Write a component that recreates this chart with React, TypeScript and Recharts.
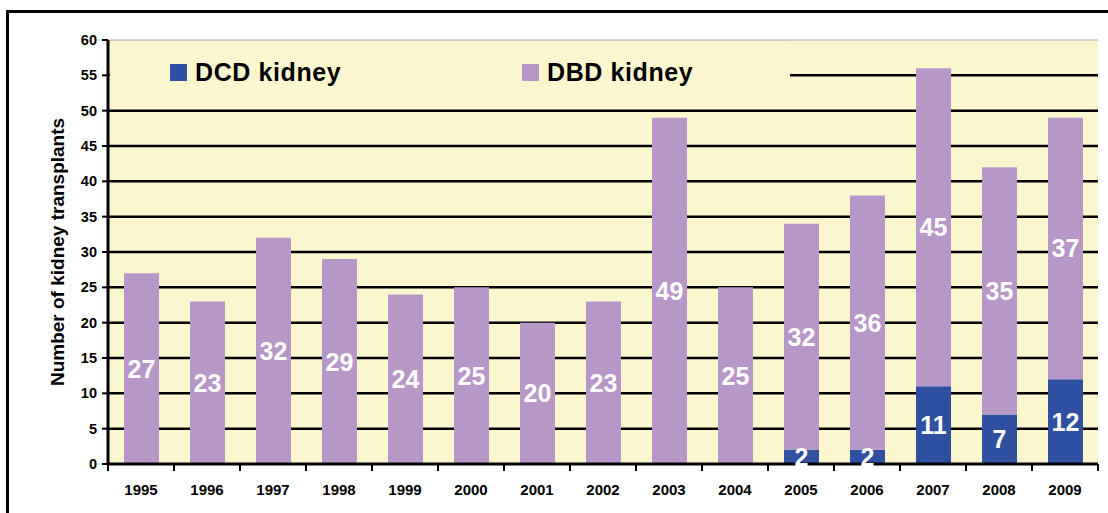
import { BarChart, Bar, XAxis, YAxis, CartesianGrid, LabelList, ReferenceLine } from "recharts";

const years = ["1995", "1996", "1997", "1998", "1999", "2000", "2001", "2002", "2003", "2004", "2005", "2006", "2007", "2008", "2009"];
const dcdKidney = [0, 0, 0, 0, 0, 0, 0, 0, 0, 0, 2, 2, 11, 7, 12];
const dbdKidney = [27, 23, 32, 29, 24, 25, 20, 23, 49, 25, 32, 36, 45, 35, 37];
const yTicks = [0, 5, 10, 15, 20, 25, 30, 35, 40, 45, 50, 55, 60];
const gridValues = [5, 10, 15, 20, 25, 30, 35, 40, 45, 50, 55];
const Y_MAX = 60;

const CREAM = "#faf7cf";
const PURPLE = "#b797c7";
const BLUE = "#2f4fa1";
const FONT = "'Liberation Sans', Arial, sans-serif";

const data = years.map((year, i) => ({ year, dcd: dcdKidney[i], dbd: dbdKidney[i] }));

// grid only at 5..55; top edge gets a thin grey line instead
function gridLines({ yAxis, offset }: any) {
  if (yAxis && typeof yAxis.scale === "function") return gridValues.map((v) => yAxis.scale(v));
  return gridValues.map((v) => offset.top + offset.height * (1 - v / Y_MAX));
}

function BarValue(props: any) {
  const { x, y, width, height, value } = props;
  if (!value) return null;
  return (
    <text
      x={x + width / 2}
      y={y + height / 2}
      textAnchor="middle"
      dominantBaseline="central"
      fill="#fff"
      fontFamily={FONT}
      fontWeight="bold"
      fontSize={25}
    >
      {value}
    </text>
  );
}

function YearTick(props: any) {
  const { x, y, payload, index } = props;
  const half = 33;
  return (
    <g>
      <line x1={x - half} x2={x - half} y1={y - 8} y2={y - 1} stroke="#000" strokeWidth={2} />
      {index === years.length - 1 && (
        <line x1={x + half} x2={x + half} y1={y - 8} y2={y - 1} stroke="#000" strokeWidth={2} />
      )}
      <text
        x={x}
        y={y + 17}
        textAnchor="middle"
        dominantBaseline="central"
        fontFamily={FONT}
        fontWeight="bold"
        fontSize={15}
        fill="#000"
      >
        {payload.value}
      </text>
    </g>
  );
}

function AxisTitle(props: any) {
  const { viewBox } = props;
  const cx = viewBox.x + 9;
  const cy = viewBox.y + viewBox.height / 2;
  return (
    <text
      x={cx}
      y={cy}
      transform={`rotate(-90, ${cx}, ${cy})`}
      textAnchor="middle"
      dominantBaseline="central"
      fontFamily={FONT}
      fontWeight="bold"
      fontSize={19}
      fill="#000"
    >
      Number of kidney transplants
    </text>
  );
}

function LegendBox() {
  const item = (color: string, label: string, left: number) => (
    <div style={{ position: "absolute", left, top: 16, display: "flex", alignItems: "center" }}>
      <div style={{ width: 17, height: 17, background: color, marginRight: 8 }} />
      <span
        style={{
          fontFamily: FONT,
          fontWeight: "bold",
          fontSize: 25,
          letterSpacing: 0.6,
          color: "#000",
          lineHeight: "30px",
        }}
      >
        {label}
      </span>
    </div>
  );
  return (
    <div
      style={{
        position: "absolute",
        left: 110,
        top: 40,
        width: 680,
        height: 55,
        background: CREAM,
        borderTop: "1px solid #cccccc",
        boxSizing: "border-box",
      }}
    >
      {item(BLUE, "DCD kidney", 60)}
      {item(PURPLE, "DBD kidney", 412)}
    </div>
  );
}

export default function App() {
  return (
    <div style={{ position: "absolute", left: 0, top: 0, width: 1108, height: 513, overflow: "hidden", background: "#fff" }}>
      <div
        style={{
          position: "absolute",
          left: 6,
          top: 10,
          width: 1300,
          height: 700,
          borderTop: "3px solid #000",
          borderLeft: "3px solid #000",
        }}
      />
      <div style={{ position: "absolute", left: 0, top: 0 }}>
        <BarChart width={1108} height={513} data={data} margin={{ top: 40, right: 10, bottom: 19, left: 48 }}>
          <CartesianGrid
            vertical={false}
            fill={CREAM}
            stroke="#000"
            strokeWidth={2.5}
            horizontalCoordinatesGenerator={gridLines}
          />
          <ReferenceLine y={Y_MAX} stroke="#c8c8c8" strokeWidth={1.5} />
          <XAxis
            dataKey="year"
            height={30}
            tickLine={false}
            axisLine={{ stroke: "#000", strokeWidth: 3 }}
            tick={<YearTick />}
            interval={0}
          />
          <YAxis
            width={60}
            domain={[0, Y_MAX]}
            ticks={yTicks}
            interval={0}
            tickSize={6}
            tickMargin={5}
            axisLine={{ stroke: "#000", strokeWidth: 3 }}
            tickLine={{ stroke: "#000", strokeWidth: 2 }}
            tick={{ fill: "#000", fontFamily: FONT, fontWeight: "bold", fontSize: 14.5 }}
            label={<AxisTitle />}
          />
          <Bar dataKey="dcd" stackId="a" fill={BLUE} barSize={35} isAnimationActive={false}>
            <LabelList dataKey="dcd" content={<BarValue />} />
          </Bar>
          <Bar dataKey="dbd" stackId="a" fill={PURPLE} barSize={35} isAnimationActive={false}>
            <LabelList dataKey="dbd" content={<BarValue />} />
          </Bar>
        </BarChart>
      </div>
      <LegendBox />
    </div>
  );
}
